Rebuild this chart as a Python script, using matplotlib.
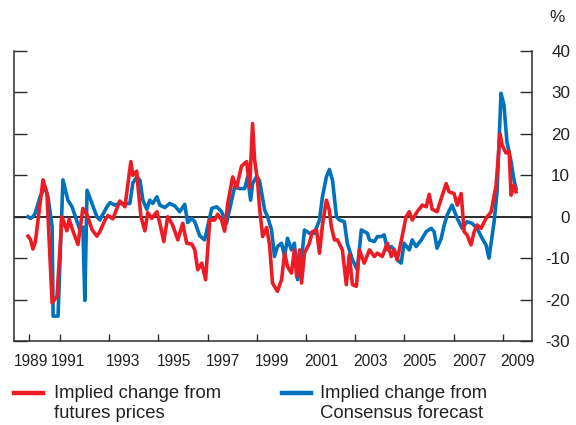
import matplotlib
matplotlib.use("Agg")
import matplotlib.pyplot as plt
from matplotlib.lines import Line2D

plt.rcParams['font.family'] = ['Liberation Sans', 'DejaVu Sans']

# Implied change from futures prices (decimal year, %)
red_t = [1989.70, 1989.80, 1989.90, 1990.00, 1990.31, 1990.47, 1990.68, 1990.88,
         1991.08, 1991.28, 1991.37, 1991.53, 1991.73, 1991.93, 1992.10, 1992.30,
         1992.50, 1992.62, 1992.83, 1992.95, 1993.15, 1993.43, 1993.64, 1993.88,
         1993.96, 1994.12, 1994.16, 1994.29, 1994.45, 1994.57, 1994.73, 1994.94,
         1995.06, 1995.22, 1995.38, 1995.58, 1995.79, 1995.99, 1996.15, 1996.36,
         1996.48, 1996.60, 1996.76, 1996.92, 1997.09, 1997.29, 1997.41, 1997.57,
         1997.69, 1997.82, 1998.02, 1998.18, 1998.38, 1998.59, 1998.71, 1998.83,
         1998.91, 1999.03, 1999.11, 1999.24, 1999.40, 1999.52, 1999.64, 1999.84,
         2000.01, 2000.13, 2000.25, 2000.41, 2000.53, 2000.62, 2000.74, 2000.82,
         2000.94, 2001.14, 2001.26, 2001.43, 2001.55, 2001.67, 2001.83, 2001.95,
         2002.03, 2002.16, 2002.28, 2002.48, 2002.64, 2002.76, 2002.89, 2003.05,
         2003.17, 2003.37, 2003.58, 2003.78, 2003.90, 2004.10, 2004.31, 2004.47,
         2004.59, 2004.71, 2004.91, 2005.07, 2005.20, 2005.32, 2005.52, 2005.73,
         2005.89, 2006.01, 2006.13, 2006.33, 2006.50, 2006.70, 2006.82, 2007.02,
         2007.15, 2007.31, 2007.43, 2007.55, 2007.71, 2007.84, 2007.96, 2008.12,
         2008.32, 2008.53, 2008.73, 2008.89, 2008.97, 2009.13, 2009.26, 2009.34,
         2009.46, 2009.54]
red_v = [-4.7, -5.5, -7.8, -6.0, 8.9, 5.6, -20.8, -19.2,
         0.0, -3.4, -0.6, -3.5, -6.7, 2.0, 0.5, -3.1,
         -4.7, -3.6, -0.8, 0.3, -0.5, 3.8, 2.4, 13.3,
         10.0, 11.0, 8.0, 0.0, -3.4, 1.0, -0.4, 1.2,
         -1.6, -6.0, 0.0, -2.0, -5.6, -1.6, -6.4, -6.6,
         -8.0, -12.8, -11.2, -15.2, -0.8, -0.8, 0.6, -0.8,
         -3.5, 3.2, 9.6, 7.0, 12.2, 13.3, 7.0, 22.5,
         13.8, 8.8, 2.4, -4.8, -2.6, -6.8, -16.0, -18.0,
         -15.2, -8.8, -12.0, -13.6, -8.0, -14.4, -8.0, -16.0,
         -8.8, -6.4, -3.6, -3.2, -8.8, -2.0, 4.0, 1.6,
         -2.4, -5.6, -5.6, -8.0, -16.4, -9.2, -16.4, -16.8,
         -8.0, -11.2, -8.0, -9.6, -8.8, -9.6, -6.4, -9.6,
         -8.0, -10.4, -4.8, 0.0, 1.2, -0.8, 1.2, 2.8,
         2.4, 5.4, 1.8, 1.2, 4.4, 8.0, 6.0, 5.6,
         2.8, 5.6, -3.6, -4.4, -6.8, -3.6, -2.0, -2.8,
         -0.4, 1.2, 7.6, 20.0, 17.4, 15.4, 15.8, 5.2,
         7.6, 6.0]

# Implied change from Consensus forecast (decimal year, %)
blue_t = [1989.70, 1989.80, 1989.90, 1989.99, 1990.19, 1990.39, 1990.51, 1990.68,
          1990.72, 1990.92, 1991.12, 1991.32, 1991.49, 1991.81, 1991.93, 1992.01,
          1992.10, 1992.30, 1992.50, 1992.62, 1992.91, 1993.03, 1993.23, 1993.43,
          1993.72, 1993.84, 1993.96, 1994.12, 1994.25, 1994.37, 1994.53, 1994.65,
          1994.77, 1994.94, 1995.06, 1995.26, 1995.46, 1995.67, 1995.87, 1996.07,
          1996.19, 1996.36, 1996.48, 1996.68, 1996.88, 1997.17, 1997.37, 1997.57,
          1997.77, 1998.10, 1998.30, 1998.51, 1998.63, 1998.75, 1998.83, 1998.99,
          1999.11, 1999.32, 1999.44, 1999.60, 1999.72, 1999.84, 2000.01, 2000.13,
          2000.25, 2000.41, 2000.53, 2000.66, 2000.82, 2000.94, 2001.14, 2001.34,
          2001.55, 2001.67, 2001.83, 2001.95, 2002.08, 2002.24, 2002.36, 2002.56,
          2002.68, 2002.89, 2003.09, 2003.25, 2003.50, 2003.58, 2003.78, 2003.90,
          2004.06, 2004.18, 2004.31, 2004.47, 2004.59, 2004.71, 2004.87, 2004.99,
          2005.20, 2005.32, 2005.48, 2005.69, 2005.89, 2006.09, 2006.21, 2006.33,
          2006.50, 2006.62, 2006.74, 2006.94, 2007.15, 2007.35, 2007.55, 2007.75,
          2007.96, 2008.16, 2008.32, 2008.44, 2008.65, 2008.77, 2008.93, 2009.05,
          2009.17, 2009.34, 2009.46, 2009.54]
blue_v = [0.0, -0.4, 0.0, 0.8, 4.8, 7.2, 4.8, -2.4,
          -24.0, -24.0, 8.9, 4.0, 2.4, -3.2, -2.5, -20.2,
          6.4, 3.2, 0.0, -0.8, 2.4, 3.4, 2.8, 3.2,
          3.2, 3.2, 8.1, 9.6, 8.8, 4.0, 1.8, 4.0,
          3.2, 4.8, 2.8, 2.2, 3.2, 2.6, 1.2, 3.0,
          -1.4, -0.4, -1.2, -4.6, -5.6, 2.0, 2.4, 1.2,
          -1.6, 7.2, 6.8, 6.8, 9.6, 4.0, 8.0, 9.6,
          8.8, 1.6, 0.0, -3.2, -9.6, -7.2, -6.4, -9.6,
          -5.2, -8.0, -6.4, -15.2, -10.4, -3.2, -4.0, -4.0,
          -0.8, 4.8, 9.6, 11.4, 8.8, 0.0, -0.8, -1.2,
          -6.4, -10.4, -12.8, -3.2, -4.0, -5.6, -6.0, -4.8,
          -4.8, -4.4, -8.0, -7.2, -8.0, -10.4, -11.2, -6.4,
          -8.0, -5.6, -7.2, -5.6, -3.6, -2.8, -3.6, -7.6,
          -5.2, -2.0, 0.4, 2.8, -0.4, -2.8, -1.2, -1.6,
          -2.8, -5.2, -6.8, -10.0, -1.2, 6.0, 29.8, 27.0,
          18.1, 13.3, 8.8, 6.8]

red_label = "Implied change from\nfutures prices"
blue_label = "Implied change from\nConsensus forecast"

tick_years = [1989.75, 1991, 1993, 1995, 1997, 1999, 2001, 2003, 2005, 2007, 2009]
tick_labels = ["1989", "1991", "1993", "1995", "1997", "1999", "2001", "2003",
               "2005", "2007", "2009"]
label_years = [1989.82, 1991.32, 1993.58, 1995.63, 1997.63, 1999.63, 2001.63,
               2003.63, 2005.63, 2007.66, 2009.62]
y_ticks = [-30, -20, -10, 0, 10, 20, 30, 40]
y_labels = ["-30", "-20", "-10", "0", "10", "20", "30", "40"]

RED = "#ED1C24"
BLUE = "#0072BC"
INK = "#2b2b2b"

W, H = 576, 425
fig = plt.figure(figsize=(W / 100, H / 100), dpi=100)
ax = fig.add_axes([14 / W, 1 - 341 / H, (532 - 14) / W, (341 - 51) / H])

ax.axhline(0, color=INK, lw=1.4, zorder=1)
ax.plot(blue_t, blue_v, color=BLUE, lw=2.6, zorder=2, solid_joinstyle="round")
ax.plot(red_t, red_v, color=RED, lw=2.6, zorder=3, solid_joinstyle="round")

ax.set_xlim(1989.13, 2010.19)
ax.set_ylim(-30, 40)

for s in ["left", "right", "bottom"]:
    ax.spines[s].set_color(INK)
    ax.spines[s].set_linewidth(1.1)
ax.spines["top"].set_visible(False)

ax.set_xticks(tick_years)
ax.set_xticklabels([])
ax.set_xticks(label_years, minor=True)
ax.set_xticklabels(tick_labels, minor=True, fontsize=11.2, color="#222")
ax.tick_params(axis="x", which="major", direction="in", length=5, width=1,
               color=INK)
ax.tick_params(axis="x", which="minor", length=0, pad=9)

ax.set_yticks(y_ticks)
ax.set_yticklabels(y_labels, fontsize=12.3, color="#222")
ax.tick_params(axis="y", direction="in", length=9, width=1, color=INK,
               left=True, right=True, labelleft=False, labelright=True, pad=27.5)
for lab in ax.get_yticklabels():
    lab.set_horizontalalignment("right")

fig.text(557 / W, 1 - 18 / H, "%", fontsize=12.3, ha="center", va="center",
         color="#222")

# legend drawn below the axes
for x0, x1, tx, col, lab in [(14, 43, 54, RED, red_label),
                             (282, 311, 320, BLUE, blue_label)]:
    fig.add_artist(Line2D([x0 / W, x1 / W], [1 - 393 / H, 1 - 393 / H],
                          color=col, lw=3.2, transform=fig.transFigure))
    fig.text(tx / W, 1 - 385 / H, lab, fontsize=13.3, ha="left", va="top",
             color="#222", linespacing=1.25)

fig.savefig("out.png", dpi=100)
